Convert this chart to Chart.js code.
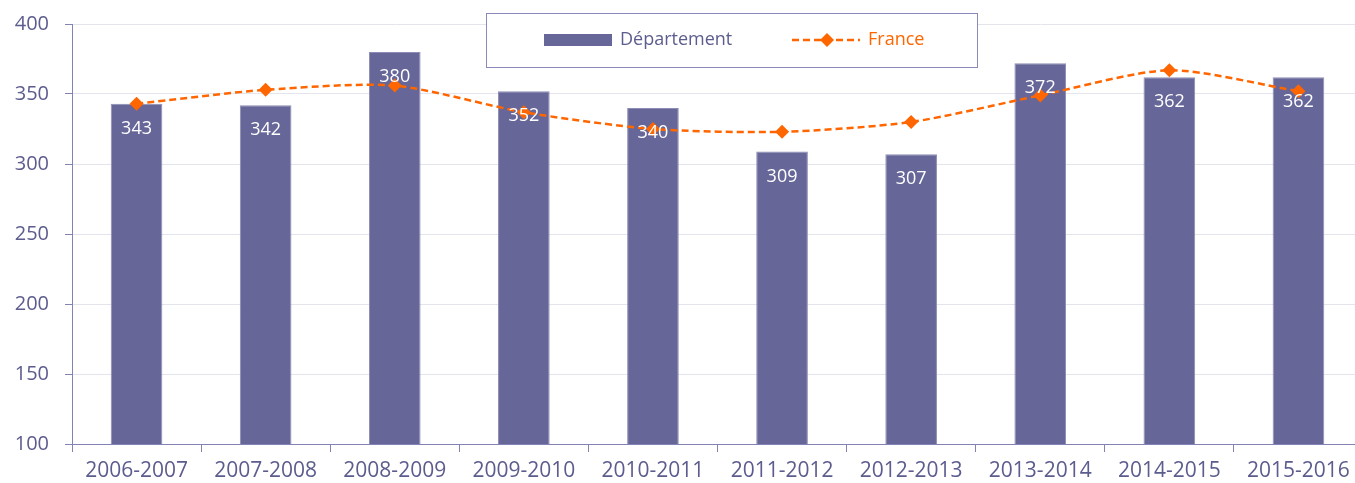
<!DOCTYPE html>
<html>
<head>
<meta charset="utf-8">
<script src="https://cdn.jsdelivr.net/npm/chart.js@4"></script>
<style>
html,body{margin:0;padding:0;background:#fff;overflow:hidden;}
#wrap{width:1370px;height:483px;position:relative;}
</style>
</head>
<body>
<div id="wrap"><canvas id="c"></canvas></div>
<script>
const categories = ['2006-2007','2007-2008','2008-2009','2009-2010','2010-2011','2011-2012','2012-2013','2013-2014','2014-2015','2015-2016'];
const departement = [343, 342, 380, 352, 340, 309, 307, 372, 362, 362];
const france = [343, 353, 356, 337, 325, 323, 330, 349, 367, 352];
const yTicks = [100, 150, 200, 250, 300, 350, 400];

const BAR = '#666699';
const ORANGE = '#FF6600';
const AXIS = '#8282b4';
const TXT = '#5c5c8e';
const FONT = "'Open Sans', 'Noto Sans', sans-serif";

const labelPlugin = {
  id: 'barLabels',
  afterDatasetsDraw(chart) {
    const ctx = chart.ctx;
    const meta = chart.getDatasetMeta(0);
    ctx.save();
    ctx.fillStyle = '#ffffff';
    ctx.font = "18px " + FONT;
    ctx.textAlign = 'center';
    ctx.textBaseline = 'middle';
    meta.data.forEach((el, i) => {
      ctx.fillText(String(departement[i]), el.x, el.y + 25);
    });
    ctx.restore();
  }
};

const legendPlugin = {
  id: 'boxLegend',
  afterDraw(chart) {
    const ctx = chart.ctx;
    ctx.save();
    ctx.fillStyle = '#ffffff';
    ctx.fillRect(486.5, 13.5, 491, 54);
    ctx.strokeStyle = '#8a8ab8';
    ctx.lineWidth = 1;
    ctx.strokeRect(486.5, 13.5, 491, 54);
    ctx.fillStyle = BAR;
    ctx.fillRect(544, 34, 68, 12);
    ctx.font = "18px " + FONT;
    ctx.textBaseline = 'middle';
    ctx.textAlign = 'left';
    ctx.fillStyle = TXT;
    ctx.fillText(chart.data.datasets[0].label, 620, 40);
    ctx.strokeStyle = ORANGE;
    ctx.lineWidth = 2.5;
    ctx.setLineDash([7, 4]);
    ctx.beginPath();
    ctx.moveTo(792, 40);
    ctx.lineTo(860, 40);
    ctx.stroke();
    ctx.setLineDash([]);
    ctx.fillStyle = ORANGE;
    ctx.beginPath();
    ctx.moveTo(827, 33);
    ctx.lineTo(834, 40);
    ctx.lineTo(827, 47);
    ctx.lineTo(820, 40);
    ctx.closePath();
    ctx.fill();
    ctx.fillText(chart.data.datasets[1].label, 868, 40);
    ctx.restore();
  }
};

new Chart(document.getElementById('c'), {
  data: {
    labels: categories,
    datasets: [
      {
        type: 'bar',
        label: 'Département',
        data: departement,
        backgroundColor: BAR,
        borderColor: '#8c8cb4',
        borderWidth: 1,
        borderSkipped: 'bottom',
        barPercentage: 0.4,
        categoryPercentage: 1.0,
        order: 1
      },
      {
        type: 'line',
        label: 'France',
        data: france,
        borderColor: ORANGE,
        backgroundColor: ORANGE,
        borderWidth: 2.5,
        borderDash: [7, 4],
        tension: 0.25,
        pointStyle: 'rectRot',
        pointRadius: 7,
        pointBorderWidth: 0,
        pointBackgroundColor: ORANGE,
        fill: false,
        order: 0
      }
    ]
  },
  options: {
    responsive: true,
    maintainAspectRatio: false,
    animation: false,
    layout: { padding: { top: 24, left: 0, right: 0, bottom: 0 } },
    plugins: {
      legend: { display: false },
      tooltip: { enabled: false }
    },
    scales: {
      x: {
        offset: true,
        afterFit(s) { s.height = 39; s.paddingLeft = 0; s.paddingRight = 0; },
        grid: {
          offset: true,
          drawOnChartArea: false,
          drawTicks: true,
          tickLength: 8,
          tickColor: AXIS,
          color: AXIS
        },
        border: { color: AXIS, width: 1 },
        ticks: {
          color: TXT,
          font: { family: FONT, size: 21 },
          padding: 6,
          maxRotation: 0,
          autoSkip: false
        }
      },
      y: {
        min: 100,
        max: 400,
        afterFit(s) { s.width = 72; s.paddingTop = 0; s.paddingBottom = 0; },
        afterBuildTicks(s) { s.ticks = yTicks.map(v => ({ value: v })); },
        grid: {
          color: '#e4e4ec',
          lineWidth: 1,
          borderDash: [2, 2],
          tickColor: AXIS,
          tickLength: 7,
          tickBorderDash: [],
          drawTicks: true
        },
        border: { color: AXIS, width: 1 },
        ticks: {
          color: TXT,
          font: { family: FONT, size: 20 },
          padding: 16
        }
      }
    }
  },
  plugins: [labelPlugin, legendPlugin]
});
</script>
</body>
</html>
